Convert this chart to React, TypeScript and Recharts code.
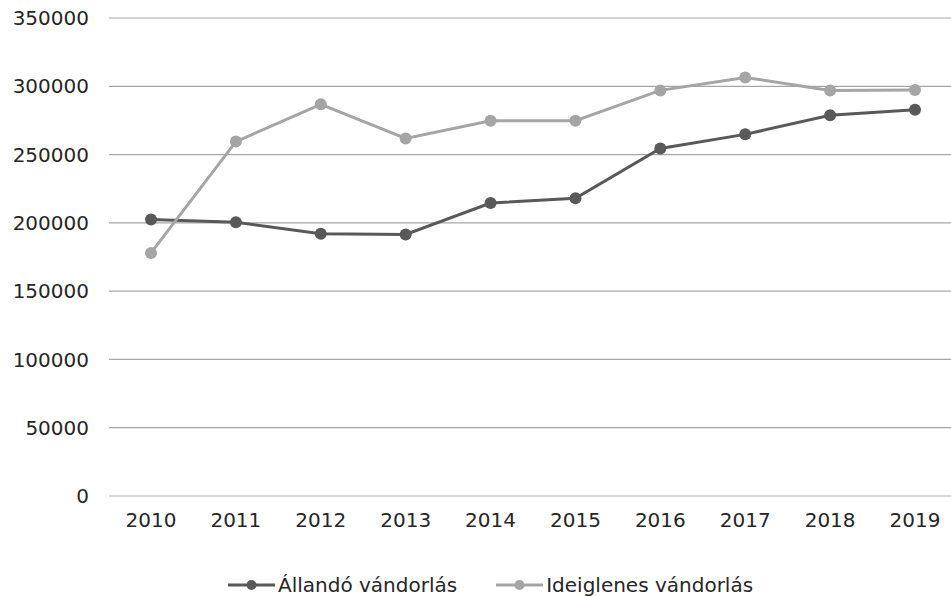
import { LineChart, Line, XAxis, YAxis, CartesianGrid, Legend } from 'recharts';

// Years on the category axis
const years = ['2010', '2011', '2012', '2013', '2014', '2015', '2016', '2017', '2018', '2019'];

// Values
const allando = [202500, 200500, 192000, 191500, 214500, 218000, 254500, 264800, 278800, 282800];
const ideiglenes = [178000, 259500, 286800, 261800, 274800, 274800, 297000, 306500, 297000, 297300];

const yTicks = [0, 50000, 100000, 150000, 200000, 250000, 300000, 350000];

const DARK = '#595959';
const LIGHT = '#a5a5a5';
const FONT = '"DejaVu Sans", sans-serif';

const chartData = years.map((year, i) => ({
    year,
    allando: allando[i],
    ideiglenes: ideiglenes[i],
}));

const legendItems = [
    { label: 'Állandó vándorlás', color: DARK },
    { label: 'Ideiglenes vándorlás', color: LIGHT },
];

function ChartLegend() {
    return (
        <div style={{ display: 'flex', paddingLeft: 228, gap: 39, fontFamily: FONT, fontSize: 20, lineHeight: '28px', color: '#262626' }}>
            {legendItems.map((item) => (
                <div key={item.label} style={{ display: 'flex', alignItems: 'center', gap: 3, height: 28 }}>
                    <svg width={47} height={14}>
                        <line x1={0} y1={7} x2={47} y2={7} stroke={item.color} strokeWidth={3} />
                        <circle cx={23.5} cy={7} r={5} fill={item.color} />
                    </svg>
                    <span style={{ whiteSpace: 'nowrap' }}>{item.label}</span>
                </div>
            ))}
        </div>
    );
}

export default function App() {
    return (
        <div style={{ position: 'absolute', left: 0, top: 0, width: 951, height: 596, background: '#fff' }}>
            <LineChart
                width={951}
                height={596}
                data={chartData}
                margin={{ top: 18, right: 0, left: 0, bottom: 60 }}
            >
                <CartesianGrid vertical={false} stroke="#a6a6a6" strokeWidth={1.2} />
                <XAxis
                    dataKey="year"
                    height={40}
                    padding={{ left: 42, right: 36 }}
                    tickSize={0}
                    tickMargin={17}
                    axisLine={{ stroke: '#d9d9d9', strokeWidth: 1.5 }}
                    tickLine={false}
                    interval={0}
                    tick={{ fill: '#262626', fontSize: 20, fontFamily: FONT }}
                />
                <YAxis
                    width={109}
                    domain={[0, 350000]}
                    ticks={yTicks}
                    interval={0}
                    tickSize={0}
                    tickMargin={20}
                    axisLine={false}
                    tickLine={false}
                    tick={{ fill: '#262626', fontSize: 20, fontFamily: FONT }}
                />
                <Legend
                    verticalAlign="middle"
                    layout="horizontal"
                    content={() => <ChartLegend />}
                    wrapperStyle={{ top: 571, left: 0, width: 951, height: 28 }}
                />
                <Line
                    type="linear"
                    dataKey="allando"
                    stroke={DARK}
                    strokeWidth={3}
                    dot={{ r: 6, fill: DARK, stroke: DARK, strokeWidth: 0 }}
                    activeDot={false}
                    isAnimationActive={false}
                />
                <Line
                    type="linear"
                    dataKey="ideiglenes"
                    stroke={LIGHT}
                    strokeWidth={3}
                    dot={{ r: 6, fill: LIGHT, stroke: LIGHT, strokeWidth: 0 }}
                    activeDot={false}
                    isAnimationActive={false}
                />
            </LineChart>
        </div>
    );
}
